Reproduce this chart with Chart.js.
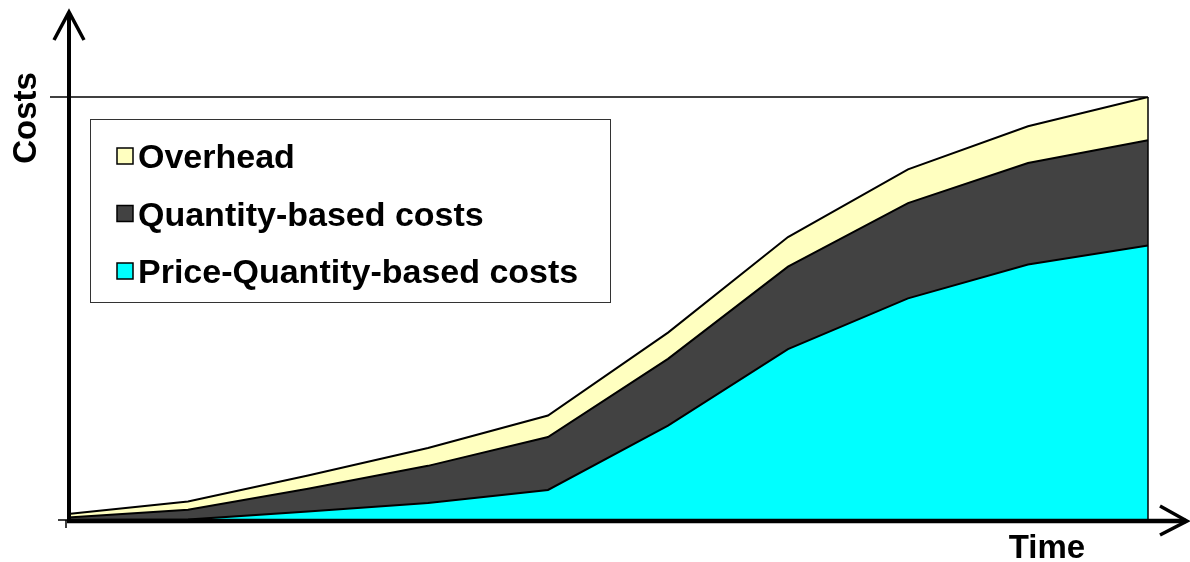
<!DOCTYPE html>
<html>
<head>
<meta charset="utf-8">
<script src="https://cdn.jsdelivr.net/npm/chart.js@4/dist/chart.umd.min.js"></script>
<style>
  html, body { margin: 0; padding: 0; background: #fff; }
  #wrap { width: 1190px; height: 562px; }
</style>
</head>
<body>
<div id="wrap"><canvas id="costChart" width="1190" height="562"></canvas></div>
<script>
// ===============================
// Data (cost build-up over time, share of total)
// ===============================
const periods = ["t1", "t2", "t3", "t4", "t5", "t6", "t7", "t8", "t9", "t10"];
const priceQtyCosts = [0, 0.1, 2.0, 4.0, 7.1, 22.3, 40.4, 52.4, 60.4, 64.9];
const qtyCosts = [0.6, 2.3, 5.4, 8.8, 12.5, 15.8, 19.5, 22.5, 24.0, 24.9];
const overheadCosts = [0.8, 2.0, 3.1, 4.2, 5.1, 6.2, 7.0, 8.0, 8.7, 10.2];
const yMax = 100;

const FONT = "'Liberation Sans', Arial, sans-serif";

// ===============================
// Axes, arrows, titles and legend box
// ===============================
const costAxes = {
  id: "costAxes",
  afterDraw(chart) {
    const c = chart.ctx;
    const x = chart.scales.x;
    const y = chart.scales.y;
    const x0 = x.getPixelForValue(0);
    const xEnd = x.getPixelForValue(periods.length - 1);
    const y0 = y.getPixelForValue(0);
    const yTop = y.getPixelForValue(yMax);

    c.save();
    c.strokeStyle = "#000";
    c.lineCap = "butt";

    // top line at max value
    c.lineWidth = 1.5;
    c.beginPath();
    c.moveTo(50, yTop);
    c.lineTo(xEnd, yTop);
    c.stroke();

    // right edge of the stacked area
    c.beginPath();
    c.moveTo(xEnd, yTop);
    c.lineTo(xEnd, y0);
    c.stroke();

    // small tick marks at origin
    c.beginPath();
    c.moveTo(58, y0);
    c.lineTo(x0, y0);
    c.moveTo(x0 - 2, y0);
    c.lineTo(x0 - 2, y0 + 8);
    c.stroke();

    // y axis with arrow
    c.lineWidth = 4;
    c.beginPath();
    c.moveTo(x0 + 1, y0 + 3);
    c.lineTo(x0 + 1, 12);
    c.stroke();
    c.lineWidth = 3.5;
    c.lineJoin = "miter";
    c.beginPath();
    c.moveTo(x0 - 14, 40);
    c.lineTo(x0 + 1, 12);
    c.lineTo(x0 + 16, 40);
    c.stroke();

    // x axis with arrow
    c.lineWidth = 4.5;
    c.beginPath();
    c.moveTo(x0 - 1, y0 + 1);
    c.lineTo(1186, y0 + 1);
    c.stroke();
    c.lineWidth = 3.5;
    c.beginPath();
    c.moveTo(1160, y0 - 14);
    c.lineTo(1187, y0 + 1);
    c.lineTo(1160, y0 + 15);
    c.stroke();

    // axis titles
    c.fillStyle = "#000";
    c.font = "bold 33px " + FONT;
    c.textAlign = "center";
    c.textBaseline = "alphabetic";
    c.fillText("Time", 1047, 558);
    c.save();
    c.translate(36, 118);
    c.rotate(-Math.PI / 2);
    c.fillText("Costs", 0, 0);
    c.restore();

    // legend box
    c.lineWidth = 1;
    c.strokeStyle = "#333";
    c.fillStyle = "#fff";
    c.fillRect(90.5, 119.5, 520, 183);
    c.strokeRect(90.5, 119.5, 520, 183);

    const rows = chart.data.datasets.slice().reverse();
    c.font = "bold 34px " + FONT;
    c.textAlign = "left";
    rows.forEach((ds, i) => {
      const cy = 156 + i * 57.5;
      c.fillStyle = ds.backgroundColor;
      c.fillRect(117, cy - 8, 16, 16);
      c.strokeStyle = "#000";
      c.lineWidth = 1.5;
      c.strokeRect(117, cy - 8, 16, 16);
      c.fillStyle = "#000";
      c.fillText(ds.label, 138, cy + 12);
    });
    c.restore();
  }
};

// ===============================
// Chart
// ===============================
const ctx = document.getElementById("costChart");
new Chart(ctx, {
  type: "line",
  data: {
    labels: periods,
    datasets: [
      {
        label: "Price-Quantity-based costs",
        data: priceQtyCosts,
        backgroundColor: "#00FFFF",
        borderColor: "#000",
        borderWidth: 2,
        fill: "origin"
      },
      {
        label: "Quantity-based costs",
        data: qtyCosts,
        backgroundColor: "#424242",
        borderColor: "#000",
        borderWidth: 2,
        fill: "-1"
      },
      {
        label: "Overhead",
        data: overheadCosts,
        backgroundColor: "#FFFFC0",
        borderColor: "#000",
        borderWidth: 2,
        fill: "-1"
      }
    ]
  },
  options: {
    responsive: false,
    animation: false,
    layout: { padding: { left: 68, right: 42, top: 97, bottom: 42 } },
    elements: {
      line: { tension: 0 },
      point: { radius: 0, hoverRadius: 0 }
    },
    plugins: {
      legend: { display: false },
      tooltip: { enabled: false }
    },
    scales: {
      x: { display: false, offset: false },
      y: { display: false, stacked: true, min: 0, max: yMax }
    }
  },
  plugins: [costAxes]
});
</script>
</body>
</html>
